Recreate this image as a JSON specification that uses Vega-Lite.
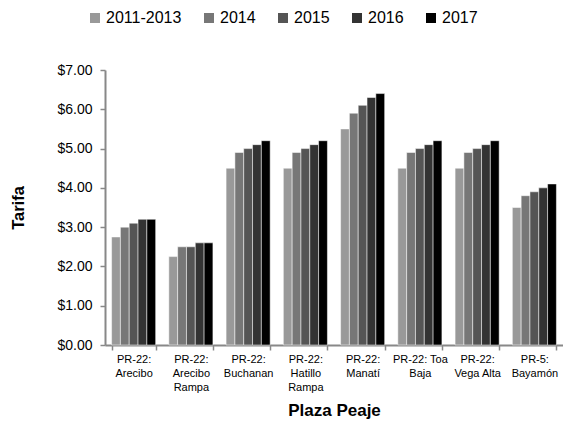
{
  "$schema": "https://vega.github.io/schema/vega-lite/v6.json",
  "width": 458,
  "height": 275,
  "autosize": {"type": "none"},
  "padding": {"left": 105, "top": 70, "right": 0, "bottom": 86},
  "background": "#ffffff",
  "config": {
    "view": {"stroke": null},
    "font": "Liberation Sans, Arial, sans-serif"
  },
  "data": {
    "values": [
      {"plaza": "PR-22: Arecibo", "periodo": "2011-2013", "tarifa": 2.75},
      {"plaza": "PR-22: Arecibo", "periodo": "2014", "tarifa": 3.0},
      {"plaza": "PR-22: Arecibo", "periodo": "2015", "tarifa": 3.1},
      {"plaza": "PR-22: Arecibo", "periodo": "2016", "tarifa": 3.2},
      {"plaza": "PR-22: Arecibo", "periodo": "2017", "tarifa": 3.2},
      {"plaza": "PR-22: Arecibo Rampa", "periodo": "2011-2013", "tarifa": 2.25},
      {"plaza": "PR-22: Arecibo Rampa", "periodo": "2014", "tarifa": 2.5},
      {"plaza": "PR-22: Arecibo Rampa", "periodo": "2015", "tarifa": 2.5},
      {"plaza": "PR-22: Arecibo Rampa", "periodo": "2016", "tarifa": 2.6},
      {"plaza": "PR-22: Arecibo Rampa", "periodo": "2017", "tarifa": 2.6},
      {"plaza": "PR-22: Buchanan", "periodo": "2011-2013", "tarifa": 4.5},
      {"plaza": "PR-22: Buchanan", "periodo": "2014", "tarifa": 4.9},
      {"plaza": "PR-22: Buchanan", "periodo": "2015", "tarifa": 5.0},
      {"plaza": "PR-22: Buchanan", "periodo": "2016", "tarifa": 5.1},
      {"plaza": "PR-22: Buchanan", "periodo": "2017", "tarifa": 5.2},
      {"plaza": "PR-22: Hatillo Rampa", "periodo": "2011-2013", "tarifa": 4.5},
      {"plaza": "PR-22: Hatillo Rampa", "periodo": "2014", "tarifa": 4.9},
      {"plaza": "PR-22: Hatillo Rampa", "periodo": "2015", "tarifa": 5.0},
      {"plaza": "PR-22: Hatillo Rampa", "periodo": "2016", "tarifa": 5.1},
      {"plaza": "PR-22: Hatillo Rampa", "periodo": "2017", "tarifa": 5.2},
      {"plaza": "PR-22: Manatí", "periodo": "2011-2013", "tarifa": 5.5},
      {"plaza": "PR-22: Manatí", "periodo": "2014", "tarifa": 5.9},
      {"plaza": "PR-22: Manatí", "periodo": "2015", "tarifa": 6.1},
      {"plaza": "PR-22: Manatí", "periodo": "2016", "tarifa": 6.3},
      {"plaza": "PR-22: Manatí", "periodo": "2017", "tarifa": 6.4},
      {"plaza": "PR-22: Toa Baja", "periodo": "2011-2013", "tarifa": 4.5},
      {"plaza": "PR-22: Toa Baja", "periodo": "2014", "tarifa": 4.9},
      {"plaza": "PR-22: Toa Baja", "periodo": "2015", "tarifa": 5.0},
      {"plaza": "PR-22: Toa Baja", "periodo": "2016", "tarifa": 5.1},
      {"plaza": "PR-22: Toa Baja", "periodo": "2017", "tarifa": 5.2},
      {"plaza": "PR-22: Vega Alta", "periodo": "2011-2013", "tarifa": 4.5},
      {"plaza": "PR-22: Vega Alta", "periodo": "2014", "tarifa": 4.9},
      {"plaza": "PR-22: Vega Alta", "periodo": "2015", "tarifa": 5.0},
      {"plaza": "PR-22: Vega Alta", "periodo": "2016", "tarifa": 5.1},
      {"plaza": "PR-22: Vega Alta", "periodo": "2017", "tarifa": 5.2},
      {"plaza": "PR-5: Bayamón", "periodo": "2011-2013", "tarifa": 3.5},
      {"plaza": "PR-5: Bayamón", "periodo": "2014", "tarifa": 3.8},
      {"plaza": "PR-5: Bayamón", "periodo": "2015", "tarifa": 3.9},
      {"plaza": "PR-5: Bayamón", "periodo": "2016", "tarifa": 4.0},
      {"plaza": "PR-5: Bayamón", "periodo": "2017", "tarifa": 4.1}
    ]
  },
  "mark": {"type": "bar", "stroke": "#ffffff", "strokeWidth": 0.5},
  "encoding": {
    "x": {
      "field": "plaza",
      "type": "nominal",
      "sort": null,
      "scale": {"paddingInner": 0.23, "paddingOuter": 0.115},
      "axis": {
        "title": "Plaza Peaje",
        "titleFontSize": 17,
        "titleFontWeight": "bold",
        "titleColor": "#000000",
        "titlePadding": 10,
        "labelAngle": 0,
        "labelFontSize": 11,
        "labelColor": "#000000",
        "labelLineHeight": 14,
        "labelPadding": 3,
        "labelBaseline": "top",
        "labelExpr": "({'PR-22: Arecibo': ['PR-22:', 'Arecibo'], 'PR-22: Arecibo Rampa': ['PR-22:', 'Arecibo', 'Rampa'], 'PR-22: Buchanan': ['PR-22:', 'Buchanan'], 'PR-22: Hatillo Rampa': ['PR-22:', 'Hatillo', 'Rampa'], 'PR-22: Manatí': ['PR-22:', 'Manatí'], 'PR-22: Toa Baja': ['PR-22: Toa', 'Baja'], 'PR-22: Vega Alta': ['PR-22:', 'Vega Alta'], 'PR-5: Bayamón': ['PR-5:', 'Bayamón']})[datum.label]",
        "tickBand": "extent",
        "tickSize": 5,
        "tickColor": "#888888",
        "tickWidth": 1.5,
        "domainColor": "#888888",
        "domainWidth": 2
      }
    },
    "xOffset": {"field": "periodo", "type": "nominal", "sort": null},
    "y": {
      "field": "tarifa",
      "type": "quantitative",
      "scale": {"domain": [0, 7]},
      "axis": {
        "title": "Tarifa",
        "titleFontSize": 16.5,
        "titleFontWeight": "bold",
        "titleColor": "#000000",
        "titlePadding": 30,
        "values": [0, 1, 2, 3, 4, 5, 6, 7],
        "format": "$.2f",
        "labelFontSize": 14,
        "labelColor": "#000000",
        "labelPadding": 8,
        "tickSize": 5,
        "tickColor": "#888888",
        "tickWidth": 1.5,
        "domainColor": "#888888",
        "domainWidth": 2,
        "grid": false
      }
    },
    "color": {
      "field": "periodo",
      "type": "nominal",
      "sort": null,
      "scale": {
        "domain": ["2011-2013", "2014", "2015", "2016", "2017"],
        "range": ["#999999", "#777777", "#555555", "#333333", "#000000"]
      },
      "legend": {
        "title": null,
        "orient": "none",
        "direction": "horizontal",
        "legendX": -18,
        "legendY": -60,
        "symbolType": "square",
        "symbolSize": 100,
        "symbolStrokeWidth": 0,
        "labelFontSize": 16,
        "labelColor": "#000000",
        "labelOffset": 3,
        "columnPadding": 19
      }
    }
  }
}
